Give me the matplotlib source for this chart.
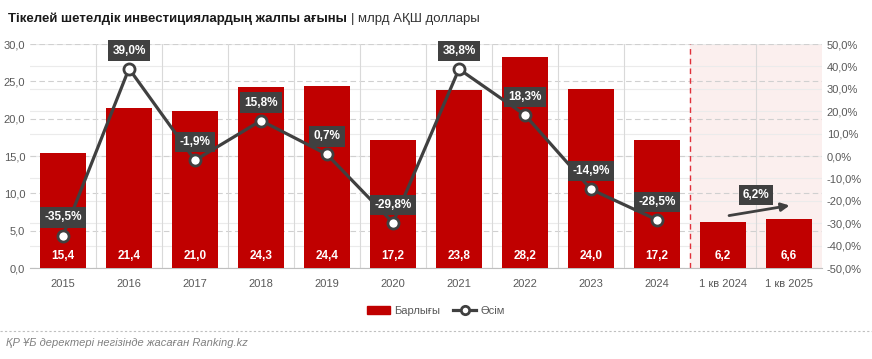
import matplotlib
matplotlib.use("Agg")
import matplotlib.pyplot as plt
import matplotlib.patches as mpatches
from matplotlib.lines import Line2D
import numpy as np

plt.rcParams['font.family'] = ['Liberation Sans', 'DejaVu Sans']

categories = ['2015', '2016', '2017', '2018', '2019', '2020', '2021', '2022',
              '2023', '2024', '1 кв 2024', '1 кв 2025']
totals = [15.4, 21.4, 21.0, 24.3, 24.4, 17.2, 23.8, 28.2, 24.0, 17.2, 6.2, 6.6]
growth = [-35.5, 39.0, -1.9, 15.8, 0.7, -29.8, 38.8, 18.3, -14.9, -28.5]
quarter_growth = 6.2

RED = '#C00000'
DARK = '#404040'
TXT = '#595959'

def fmt(v, d=1):
    return f'{v:.{d}f}'.replace('.', ',')

fig = plt.figure(figsize=(8.72, 3.59), dpi=100)
W, H = 872, 359
ax = fig.add_axes([30 / W, 1 - 268 / H, (822 - 30) / W, (268 - 44) / H])
ax2 = ax.twinx()

x = np.arange(len(categories))
n = len(categories)

# shaded quarterly region
ax.axvspan(9.5, n - 0.5, color='#FBEFEE', zorder=0)

# light lines at the right-axis ticks, drawn on the bar axis so bars cover them
for yv in np.arange(-50, 51, 10):
    ax.axhline((yv + 50) * 0.3, color='#EBEBEB', linewidth=0.8, zorder=0.5)

bars = ax.bar(x, totals, width=0.71, color=RED, zorder=3)
for xi, v in zip(x, totals):
    ax.text(xi, 0.8, fmt(v), ha='center', va='bottom', color='white',
            fontsize=8.5, fontweight='bold', zorder=5)

ax.set_xlim(-0.5, n - 0.5)
ax.set_ylim(0, 30)
ax.set_yticks(np.arange(0, 31, 5))
ax.set_yticklabels([fmt(v) for v in np.arange(0, 31, 5)])
ax.set_xticks(x)
ax.set_xticklabels(categories)
ax.tick_params(axis='both', length=0, labelsize=8, colors=TXT)
ax.tick_params(axis='x', pad=8)
ax.yaxis.grid(True, color='#D0D0D0', linestyle=(0, (5, 3)), linewidth=0.8, zorder=1)
ax.set_axisbelow(True)
for b in np.arange(0.5, n - 1, 1):
    if b == 9.5:
        ax.axvline(b, color='#E0303A', linestyle=(0, (4, 3)), linewidth=1, zorder=1)
    else:
        ax.axvline(b, color='#D9D9D9', linewidth=0.8, zorder=1)
for s in ['top', 'left', 'right']:
    ax.spines[s].set_visible(False)
ax.spines['bottom'].set_color('#BFBFBF')

ax2.set_ylim(-50, 50)
ax2.set_yticks(np.arange(-50, 51, 10))
ax2.set_yticklabels([fmt(v) + '%' for v in np.arange(-50, 51, 10)])
ax2.tick_params(axis='y', length=0, labelsize=8, colors=TXT)
for s in ax2.spines.values():
    s.set_visible(False)

gx = x[:len(growth)]
ax2.plot(gx, growth, color=DARK, linewidth=2.3, marker='o', markersize=8,
         markerfacecolor='white', markeredgecolor=DARK, markeredgewidth=2, zorder=6)
for xi, g in zip(gx, growth):
    ax2.annotate(fmt(g) + '%', (xi, g), xytext=(0, 13), textcoords='offset points',
                 ha='center', va='center', color='white', fontsize=8.5,
                 fontweight='bold', zorder=7,
                 bbox=dict(boxstyle='square,pad=0.35', fc=DARK, ec='none'))

ax2.annotate('', xy=(11.05, -21.9), xytext=(10.05, -26.8),
             arrowprops=dict(arrowstyle='-|>', color=DARK, lw=2, mutation_scale=12), zorder=7)
ax2.text(10.5, -17.4, fmt(quarter_growth) + '%', ha='center', va='center', color='white',
         fontsize=8.5, fontweight='bold', zorder=7,
         bbox=dict(boxstyle='square,pad=0.35', fc=DARK, ec='none'))

# title
t1 = fig.text(8 / W, 1 - 19 / H, 'Тікелей шетелдік инвестициялардың жалпы ағыны',
              fontsize=9.5, fontweight='bold', color='#1A1A1A', va='center')
fig.canvas.draw()
bb = t1.get_window_extent()
fig.text(bb.x1 / W + 0.005, 1 - 19 / H, '| млрд АҚШ доллары', fontsize=9.5,
         color='#333333', va='center')

# legend
handles = [mpatches.Patch(color=RED, label='Барлығы'),
           Line2D([], [], color=DARK, lw=2.3, marker='o', markersize=6,
                  markerfacecolor='white', markeredgecolor=DARK, markeredgewidth=2,
                  label='Өсім')]
fig.legend(handles=handles, loc='center', bbox_to_anchor=(0.5, 1 - 311 / H), ncol=2,
           frameon=False, fontsize=8, handlelength=2, columnspacing=1.2,
           handletextpad=0.4, labelcolor=TXT)

fig.add_artist(Line2D([0, 1], [1 - 331 / H, 1 - 331 / H], color='#BFBFBF',
                      linestyle=(0, (2, 2)), linewidth=0.8, transform=fig.transFigure))
fig.text(6 / W, 1 - 343 / H, 'ҚР ҰБ деректері негізінде жасаған Ranking.kz',
         fontsize=8, style='italic', color='#808080', va='center')

fig.savefig('out.png', dpi=100)
